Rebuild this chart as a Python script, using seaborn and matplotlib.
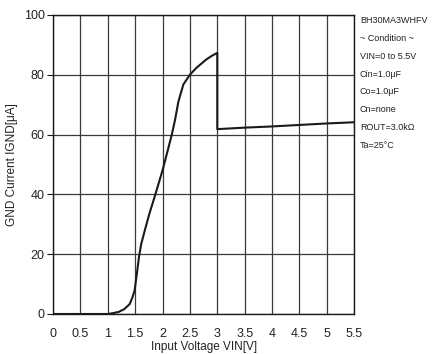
import matplotlib
matplotlib.use("Agg")
import matplotlib.pyplot as plt
import seaborn as sns
import pandas as pd

# GND current vs input voltage
vin = [0.0, 0.5, 1.0, 1.1, 1.2, 1.3, 1.4, 1.45, 1.49, 1.53, 1.57, 1.61, 1.67,
       1.76, 1.87, 2.0, 2.1, 2.17, 2.23, 2.29, 2.38, 2.5, 2.62, 2.8, 2.9, 3.0,
       3.0, 3.5, 4.0, 4.5, 5.0, 5.5]
ignd = [0.0, 0.0, 0.0, 0.3, 0.7, 1.6, 3.3, 5.5, 7.8, 13.2, 19.0, 23.3, 27.5,
        33.5, 40.0, 48.0, 55.0, 60.0, 65.0, 71.0, 76.7, 80.0, 82.3, 85.1, 86.3, 87.3,
        61.8, 62.3, 62.7, 63.2, 63.7, 64.1]

x_ticks = [0, 0.5, 1, 1.5, 2, 2.5, 3, 3.5, 4, 4.5, 5, 5.5]
x_tick_labels = ["0", "0.5", "1", "1.5", "2", "2.5", "3", "3.5", "4", "4.5", "5", "5.5"]
y_ticks = [0, 20, 40, 60, 80, 100]

conditions = ["BH30MA3WHFV", "~ Condition ~", "VIN=0 to 5.5V", "Cin=1.0\u03bcF",
              "Co=1.0\u03bcF", "Cn=none", "ROUT=3.0k\u03a9", "Ta=25\u00b0C"]

sns.set_theme(style="white")
plt.rcParams["font.family"] = ["Liberation Sans", "DejaVu Sans"]

fig = plt.figure(figsize=(4.45, 3.54), dpi=100)
ax = fig.add_axes([0.119, 0.113, 0.677, 0.845])

df = pd.DataFrame({"vin": vin, "ignd": ignd})
sns.lineplot(data=df, x="vin", y="ignd", sort=False, estimator=None,
             color="#1a1a1a", linewidth=1.5, ax=ax)

ax.set_xlim(0, 5.5)
ax.set_ylim(0, 100)
ax.set_xticks(x_ticks)
ax.set_xticklabels(x_tick_labels)
ax.set_yticks(y_ticks)
ax.grid(True, color="#3a3a3a", linewidth=0.9)
ax.set_axisbelow(True)
for s in ax.spines.values():
    s.set_color("#1a1a1a")
    s.set_linewidth(1.0)

ax.tick_params(axis="y", which="both", left=True, length=4, width=0.8,
               color="#1a1a1a", labelsize=9, pad=2, labelcolor="#222222")
ax.tick_params(axis="x", which="both", bottom=False, labelsize=9, pad=4,
               labelcolor="#222222")

ax.set_xlabel("Input Voltage VIN[V]", fontsize=8.5, color="#222222", labelpad=1)
ax.set_ylabel("GND Current IGND[\u03bcA]", fontsize=8.5, color="#222222", labelpad=4)

y0 = 20.7
for i, t in enumerate(conditions):
    fig.text(360 / 445, 1 - (y0 + i * 17.8) / 354, t, fontsize=6.5,
             color="#222222", va="center", ha="left")

fig.savefig("out.png", dpi=100, facecolor="white")
